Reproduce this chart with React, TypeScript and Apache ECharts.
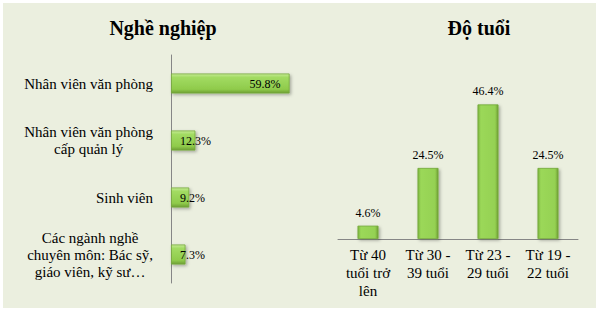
import React, { useEffect, useRef } from "react";
import * as echarts from "echarts";

const jobCategories = [
  "Nhân viên văn phòng",
  "Nhân viên văn phòng\ncấp quản lý",
  "Sinh viên",
  "Các ngành nghề\nchuyên môn: Bác sỹ,\ngiáo viên, kỹ sư…",
];
const jobValues = [59.8, 12.3, 9.2, 7.3];

const ageCategories = ["Từ 40\ntuổi trở\nlên", "Từ 30 -\n39 tuổi", "Từ 23 -\n29 tuổi", "Từ 19 -\n22 tuổi"];
const ageValues = [4.6, 24.5, 46.4, 24.5];

const FONT = "Liberation Serif";

export default function App() {
  const ref = useRef<HTMLDivElement>(null);
  useEffect(() => {
    document.body.style.margin = "0";
    const chart = echarts.init(ref.current!, null, { renderer: "svg" });
    const hGrad = new echarts.graphic.LinearGradient(0, 0, 0, 1, [
      { offset: 0, color: "#C6EB95" },
      { offset: 0.18, color: "#A2DB62" },
      { offset: 0.8, color: "#8FCB4B" },
      { offset: 1, color: "#6E9E35" },
    ]);
    const vGrad = new echarts.graphic.LinearGradient(0, 0, 1, 0, [
      { offset: 0, color: "#7CB43E" },
      { offset: 0.15, color: "#9BD859" },
      { offset: 0.85, color: "#95D153" },
      { offset: 1, color: "#6E9F33" },
    ]);
    const lines = (s: string) =>
      s
        .split("\n")
        .map((l) => `{c|${l}}`)
        .join("\n");
    chart.setOption({
      animation: false,
      backgroundColor: "transparent",
      textStyle: { fontFamily: FONT },
      title: [
        {
          text: "Nghề nghiệp",
          left: 158,
          top: 13,
          textAlign: "center",
          textStyle: { fontFamily: FONT, fontSize: 20, fontWeight: "bold", color: "#000" },
        },
        {
          text: "Độ tuổi",
          left: 474,
          top: 13,
          textAlign: "center",
          textStyle: { fontFamily: FONT, fontSize: 20, fontWeight: "bold", color: "#000" },
        },
      ],
      grid: [
        { left: 171, top: 55, width: 119, height: 228 },
        { left: 338, top: 94, width: 240, height: 145 },
      ],
      xAxis: [
        { type: "value", gridIndex: 0, min: 0, max: 60, show: false },
        {
          type: "category",
          gridIndex: 1,
          data: ageCategories,
          axisTick: { show: false },
          axisLine: { lineStyle: { color: "#868686", width: 1 } },
          axisLabel: {
            interval: 0,
            margin: 7,
            fontFamily: FONT,
            fontSize: 15,
            lineHeight: 18,
            color: "#000",
            align: "center",
          },
        },
      ],
      yAxis: [
        {
          type: "category",
          gridIndex: 0,
          inverse: true,
          data: jobCategories,
          axisTick: { show: false },
          axisLine: { lineStyle: { color: "#868686", width: 1 } },
          axisLabel: {
            interval: 0,
            margin: 18,
            fontFamily: FONT,
            fontSize: 15,
            formatter: (v: string) => lines(v),
            rich: {
              c: { fontFamily: FONT, fontSize: 15, lineHeight: 17, color: "#000", align: "center" },
            },
          },
        },
        { type: "value", gridIndex: 1, min: 0, max: 50, show: false },
      ],
      series: [
        {
          type: "bar",
          xAxisIndex: 0,
          yAxisIndex: 0,
          barWidth: 20,
          data: jobValues.map((v, i) => ({
            value: v,
            label: i === 0 ? { position: "insideRight", distance: 9 } : { position: "insideLeft", distance: 9 },
          })),
          itemStyle: {
            color: hGrad,
            borderColor: "#74A83A",
            borderWidth: 0.8,
            shadowColor: "rgba(0,0,0,0.3)",
            shadowBlur: 3,
            shadowOffsetX: 1.5,
            shadowOffsetY: 1.5,
          },
          label: {
            show: true,
            formatter: (p: any) => p.value.toFixed(1) + "%",
            fontFamily: FONT,
            fontSize: 12,
            color: "#000",
          },
        },
        {
          type: "bar",
          xAxisIndex: 1,
          yAxisIndex: 1,
          barWidth: 21,
          data: ageValues,
          itemStyle: {
            color: vGrad,
            borderColor: "#74A83A",
            borderWidth: 0.8,
            shadowColor: "rgba(0,0,0,0.3)",
            shadowBlur: 3,
            shadowOffsetX: 1.5,
            shadowOffsetY: 1.5,
          },
          label: {
            show: true,
            position: "top",
            distance: 7,
            formatter: (p: any) => p.value.toFixed(1) + "%",
            fontFamily: FONT,
            fontSize: 12,
            color: "#000",
          },
        },
      ],
    });
    return () => chart.dispose();
  }, []);
  return (
    <div style={{ position: "absolute", left: 0, top: 0, width: 601, height: 311, background: "#fff" }}>
      <div
        style={{ position: "absolute", left: 3, top: 3, width: 593, height: 305, background: "#EBEFDF" }}
      />
      <div ref={ref} style={{ position: "absolute", left: 0, top: 0, width: 601, height: 311 }} />
    </div>
  );
}
